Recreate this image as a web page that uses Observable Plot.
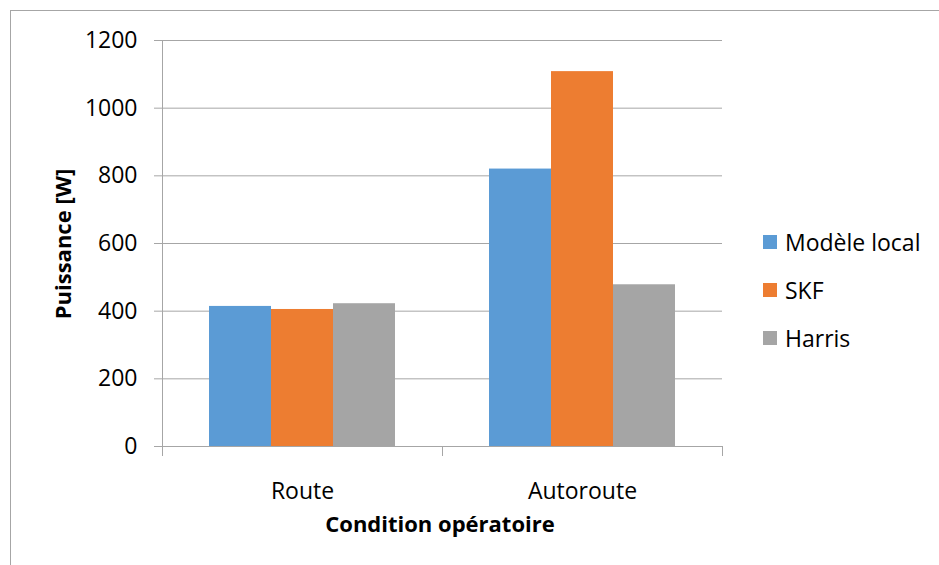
<!DOCTYPE html>
<html>
<head>
<meta charset="utf-8">
<script src="https://cdn.jsdelivr.net/npm/d3@7"></script>
<script src="https://cdn.jsdelivr.net/npm/@observablehq/plot@0.6"></script>
<style>
  body { margin: 0; background: #fff; font-family: "Open Sans", sans-serif; }
  #wrap { position: relative; width: 939px; height: 565px; overflow: hidden; }
  #border { position: absolute; left: 10px; top: 10px; width: 940px; height: 560px;
            border-top: 1.5px solid #a6a6a6; border-left: 1.5px solid #a6a6a6; }
  #chart { position: absolute; left: 0; top: 0; }
  .ytitle { position: absolute; left: 62px; top: 244px; transform: translate(-50%, -50%) rotate(-90deg);
            font-weight: bold; font-size: 22px; white-space: nowrap; color: #000; }
  .xtitle { position: absolute; left: 440px; top: 523px; transform: translate(-50%, -50%);
            font-weight: bold; font-size: 22px; white-space: nowrap; color: #000; }
  .legend-item { position: absolute; left: 763px; display: flex; align-items: center;
                 transform: translateY(-50%); font-size: 23px; white-space: nowrap; color: #000; }
  .legend-item .sw { width: 14px; height: 14px; margin-right: 8px; }
</style>
</head>
<body>
<div id="wrap">
  <div id="border"></div>
  <div id="chart"></div>
</div>
<script>
// ---- Data ----
const categories = ["Route", "Autoroute"];
const series = ["Modèle local", "SKF", "Harris"];
const modeleLocal = [414, 820];
const skf = [405, 1108];
const harris = [422, 478];
const colors = ["#5B9BD5", "#ED7D31", "#A5A5A5"];
const yTicks = [0, 200, 400, 600, 800, 1000, 1200];
const yTitle = "Puissance [W]";
const xTitle = "Condition opératoire";

const seriesValues = [modeleLocal, skf, harris];
const data = categories.flatMap((c, i) =>
  series.map((s, j) => ({ category: c, series: s, value: seriesValues[j][i] }))
);

const lineColor = "#a6a6a6";

const chart = Plot.plot({
  width: 939,
  height: 565,
  marginLeft: 162,
  marginRight: 217,
  marginTop: 40,
  marginBottom: 119,
  style: { fontFamily: "'Open Sans', sans-serif", fontSize: "23px", color: "#000", background: "transparent", overflow: "visible" },
  fx: { domain: categories, padding: 0, label: null },
  x: { domain: series, paddingInner: 0, paddingOuter: 0.758, axis: null, label: null },
  y: { domain: [0, 1200], label: null },
  color: { domain: series, range: colors },
  marks: [
    Plot.gridY(yTicks, { stroke: lineColor, strokeOpacity: 1, strokeWidth: 1 }),
    Plot.barY(data, { fx: "category", x: "series", y: "value", fill: "series" }),
    Plot.ruleY([0], { stroke: lineColor, strokeWidth: 1 }),
    Plot.frame({ anchor: "left", facetAnchor: "left", stroke: lineColor, strokeWidth: 1 }),
    Plot.frame({ anchor: "left", insetTop: 406, insetBottom: -9, stroke: lineColor, strokeWidth: 1 }),
    Plot.frame({ anchor: "right", facetAnchor: "right", insetTop: 406, insetBottom: -9, stroke: lineColor, strokeWidth: 1 }),
    Plot.axisY({ ticks: yTicks, tickSize: 8, tickPadding: 17, stroke: lineColor, label: null, fontSize: 23, tickFormat: d => String(d) }),
    Plot.axisFx({ anchor: "bottom", tickSize: 0, tickPadding: 36, label: null, fontSize: 23 })
  ]
});
document.getElementById("chart").appendChild(chart);

const wrap = document.getElementById("wrap");
const yt = document.createElement("div");
yt.className = "ytitle"; yt.textContent = yTitle; wrap.appendChild(yt);
const xt = document.createElement("div");
xt.className = "xtitle"; xt.textContent = xTitle; wrap.appendChild(xt);

const legendY = [242, 290, 338];
series.forEach((s, i) => {
  const item = document.createElement("div");
  item.className = "legend-item";
  item.style.top = legendY[i] + "px";
  const sw = document.createElement("span");
  sw.className = "sw"; sw.style.background = colors[i];
  const t = document.createElement("span");
  t.textContent = s;
  item.appendChild(sw); item.appendChild(t);
  wrap.appendChild(item);
});
</script>
</body>
</html>
